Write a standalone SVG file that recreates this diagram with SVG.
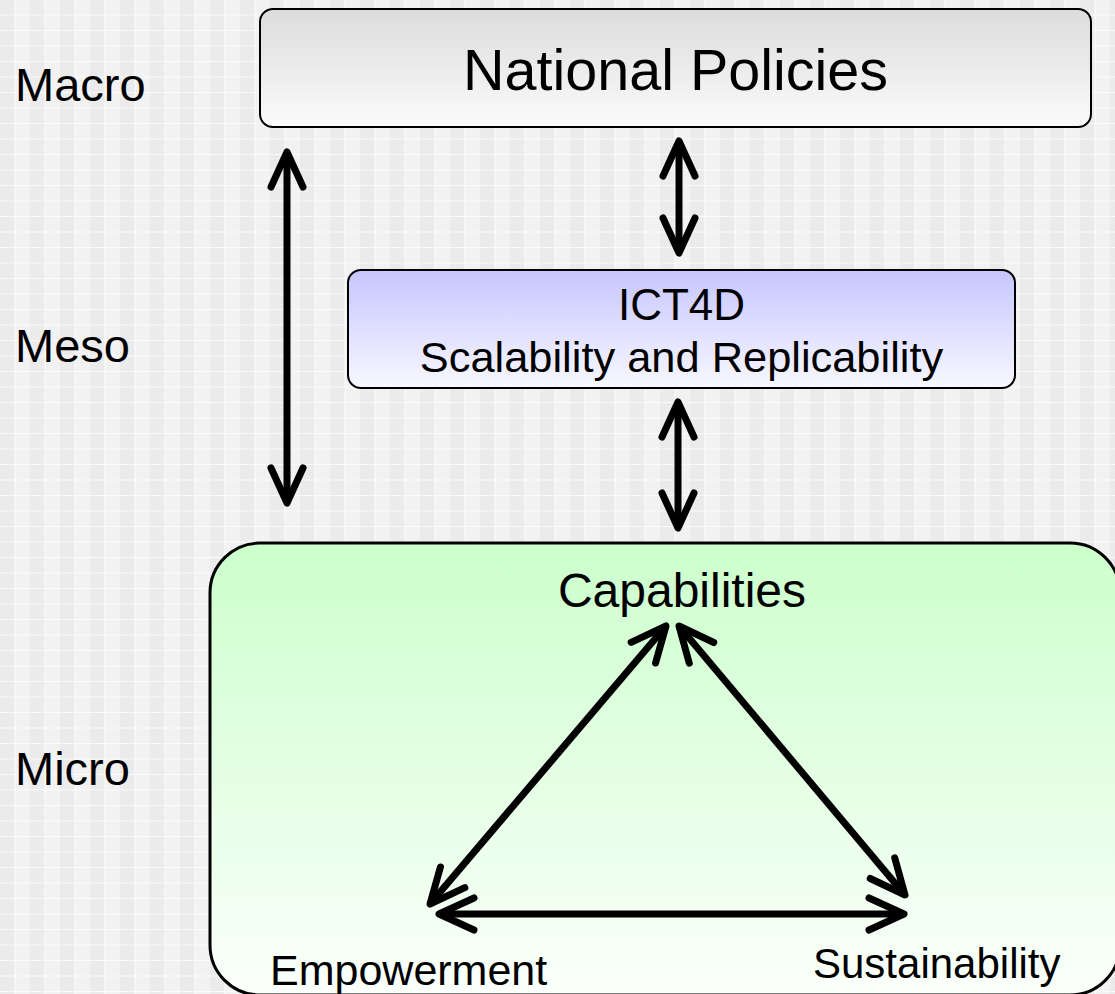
<svg xmlns="http://www.w3.org/2000/svg" width="1115" height="994" viewBox="0 0 1115 994">
<style>
text{font-family:"Liberation Sans",Arial,sans-serif;fill:#000}
.box{stroke:#000;stroke-width:2}
.conn{stroke:#000;stroke-width:7;fill:none;marker-start:url(#ah);marker-end:url(#ah)}
</style>
<defs>
<pattern id="bg" width="30" height="15.5" patternUnits="userSpaceOnUse">
<rect width="30" height="15.5" fill="#ebebeb"/>
<rect x="15" width="15" height="15.5" fill="#f2f2f2"/>
<rect x="14.5" width="1.2" height="15.5" fill="#fbfbfb"/>
<rect y="14.6" width="30" height="1.2" fill="#fbfbfb"/>
</pattern>
<linearGradient id="gNat" x1="0" y1="0" x2="0" y2="1"><stop offset="0" stop-color="#dcdcdc"/><stop offset="1" stop-color="#fbfbfb"/></linearGradient>
<linearGradient id="gIct" x1="0" y1="0" x2="0" y2="1"><stop offset="0" stop-color="#c6c6ff"/><stop offset="1" stop-color="#f8f8ff"/></linearGradient>
<linearGradient id="gMic" x1="0" y1="0" x2="0" y2="1"><stop offset="0" stop-color="#ccffcc"/><stop offset="1" stop-color="#fbfffb"/></linearGradient>
<marker id="ah" markerUnits="userSpaceOnUse" orient="auto-start-reverse" refX="0" refY="0" markerWidth="80" markerHeight="80" viewBox="-40 -40 80 80" overflow="visible">
<path d="M-35,-16 L0,0 L-35,16" fill="none" stroke="#000" stroke-width="7" stroke-linecap="round" stroke-linejoin="round"/>
</marker>
</defs>
<rect width="1115" height="994" fill="url(#bg)"/>
<text x="15" y="101" font-size="47">Macro</text>
<text x="15" y="362" font-size="47">Meso</text>
<text x="15" y="785" font-size="47">Micro</text>
<g id="national">
<rect class="box" x="260" y="9" width="831" height="118" rx="13" fill="url(#gNat)"/>
<text x="675.5" y="90" font-size="57.5" text-anchor="middle">National Policies</text>
</g>
<g id="ict4d">
<rect class="box" x="348" y="270" width="667" height="118" rx="13" fill="url(#gIct)"/>
<text x="681.5" y="320" font-size="44" text-anchor="middle">ICT4D</text>
<text x="681.5" y="372" font-size="43.4" text-anchor="middle">Scalability and Replicability</text>
</g>
<g id="micro">
<rect x="210" y="543" width="910" height="452" rx="50" fill="url(#gMic)" stroke="#000" stroke-width="3"/>
</g>
<g id="capabilities"><text x="682" y="607" font-size="48" text-anchor="middle">Capabilities</text></g>
<g id="empowerment"><text x="270" y="985" font-size="43">Empowerment</text></g>
<g id="sustainability"><text x="813" y="978" font-size="42">Sustainability</text></g>
<g id="connectors">
<line class="conn" x1="287" y1="152" x2="287" y2="503"/>
<line class="conn" x1="679" y1="141" x2="679" y2="253"/>
<line class="conn" x1="678" y1="402" x2="678" y2="528"/>
<line class="conn" x1="666" y1="626" x2="430" y2="904"/>
<line class="conn" x1="679" y1="626" x2="905" y2="895"/>
<line class="conn" x1="439" y1="914" x2="904" y2="914"/>
</g>
</svg>
